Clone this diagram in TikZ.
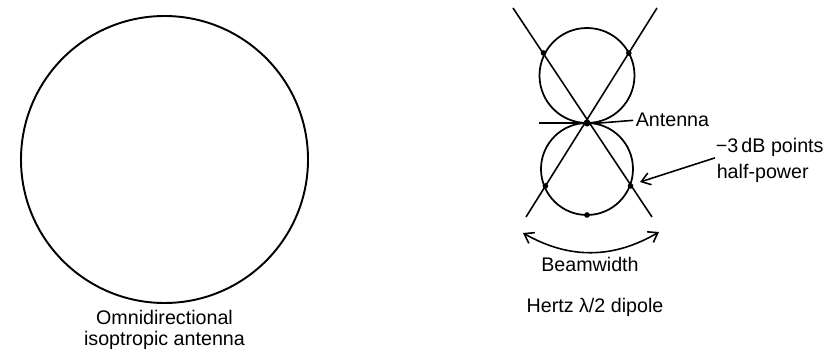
\documentclass[tikz,border=0pt]{standalone}
\usepackage{fontspec}
\setmainfont{Liberation Sans}
\usetikzlibrary{arrows.meta, positioning}

\begin{document}
\begin{tikzpicture}[x=0.02cm, y=0.02cm, line width=0.9pt,
    lbl/.style={inner sep=0pt, font=\fontsize{11.2}{13}\selectfont},
    dotpt/.style={circle, fill, inner sep=0pt, minimum size=3.2pt},
    barb/.style={-{Straight Barb[length=5pt, width=7pt]}}]
    \useasboundingbox (0,0) rectangle (823,-351);

    % Isotropic antenna
    \draw[line width=1.1pt] (164.5,-159.5) circle[radius=143.5];
    \node[lbl, anchor=base] (omni) at (164.5,-325) {Omnidirectional};
    \node[lbl, anchor=base] (iso) at (164.5,-346) {isoptropic antenna};

    % Dipole lobes
    \coordinate (feed) at (587,-123);
    \draw[line width=1pt] (587,-75.5) circle[radius=47.5];
    \draw[line width=1pt] (587,-169) circle[radius=46];

    % Half-power lines
    \coordinate (tl) at (513,-8);
    \coordinate (br) at (652,-217);
    \coordinate (tr) at (657,-8);
    \coordinate (bl) at (526,-217);
    \draw (tl) -- (br);
    \draw (tr) -- (bl);

    \node[dotpt] (p1) at (543.5,-53) {};
    \node[dotpt] (p2) at (628.8,-53) {};
    \node[dotpt] (p3) at (545.4,-186) {};
    \node[dotpt] (p4) at (630.5,-186) {};
    \node[dotpt] (p5) at (587,-215) {};
    \node[dotpt, minimum size=4pt] (fd) at (feed) {};

    % Antenna
    \node[lbl, anchor=base west] (ant) at (635,-127) {Antenna};
    \draw[line width=1.5pt] (539,-123) -- (600,-123) coordinate (antend);
    \draw (antend) -- ([xshift=-1pt]ant.west);

    % -3 dB points
    \node[lbl, anchor=base west] (db) at (715,-153) {−3\,dB points};
    \node[lbl, anchor=base west] (hp) at (716,-179) {half-power};
    \coordinate (hpt) at (640,-182);
    \draw[barb] (db.south west) -- (hpt);

    % Beamwidth
    \coordinate (bw1) at (523,-233);
    \coordinate (bw2) at (659,-232);
    \draw[{Straight Barb[length=5pt, width=7pt]}-{Straight Barb[length=5pt, width=7pt]}]
        (bw1) to[bend right=30] (bw2);
    \node[lbl, anchor=base] (bw) at (590,-272) {Beamwidth};
    \node[lbl, anchor=base] (hz) at (595,-313) {Hertz λ/2 dipole};
\end{tikzpicture}
\end{document}
